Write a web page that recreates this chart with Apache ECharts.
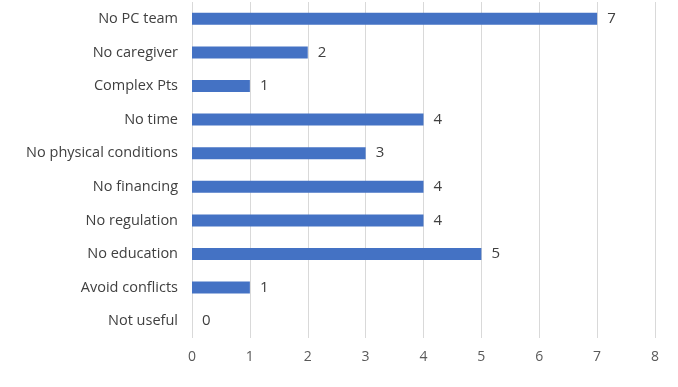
<!DOCTYPE html>
<html>
<head>
<meta charset="utf-8">
<script src="https://cdn.jsdelivr.net/npm/echarts@6/dist/echarts.min.js"></script>
<style>
  html, body { margin: 0; padding: 0; background: #fff; }
  #chart { width: 678px; height: 387px; }
</style>
</head>
<body>
<div id="chart"></div>
<script>
// categories listed bottom to top (category axis starts at the bottom)
var reasons = ['Not useful', 'Avoid conflicts', 'No education', 'No regulation', 'No financing',
  'No physical conditions', 'No time', 'Complex Pts', 'No caregiver', 'No PC team'];
var counts = [0, 1, 5, 4, 4, 3, 4, 1, 2, 7];
var xTicks = [0, 1, 2, 3, 4, 5, 6, 7, 8];

var chart = echarts.init(document.getElementById('chart'));

var option = {
  animation: false,
  textStyle: { fontFamily: 'Open Sans' },
  grid: {
    left: 192,
    right: 23,
    top: 2,
    bottom: 49,
    containLabel: false
  },
  xAxis: {
    type: 'value',
    min: xTicks[0],
    max: xTicks[xTicks.length - 1],
    interval: 1,
    axisLine: { show: false },
    axisTick: { show: false },
    axisLabel: {
      color: '#595959',
      fontSize: 14,
      margin: 12
    },
    splitLine: {
      show: true,
      lineStyle: { color: '#d9d9d9', width: 1 }
    }
  },
  yAxis: {
    type: 'category',
    data: reasons,
    axisLine: { show: false },
    axisTick: { show: false },
    axisLabel: {
      color: '#404040',
      fontSize: 14.5,
      margin: 14
    }
  },
  series: [{
    type: 'bar',
    data: counts,
    barWidth: 12,
    itemStyle: { color: '#4472C4' },
    label: {
      show: true,
      position: 'right',
      distance: 10,
      color: '#404040',
      fontSize: 15
    }
  }]
};

chart.setOption(option);
</script>
</body>
</html>
